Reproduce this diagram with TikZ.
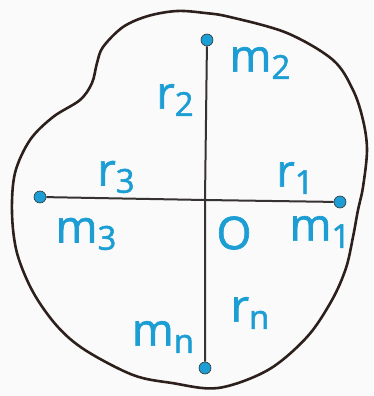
\documentclass[tikz,border=0pt]{standalone}
\usepackage{fontspec}
\setmainfont{Open Sans}[FakeBold=1.5]
\definecolor{ink}{RGB}{28,158,212}
\definecolor{outl}{RGB}{45,32,28}
\definecolor{rod}{RGB}{55,50,50}
\tikzset{
  lbl/.style={text=ink, font=\fontsize{45}{48}\selectfont, inner sep=0pt},
  dot/.style={circle, fill=ink, draw=black!80, line width=0.6pt, minimum size=12pt, inner sep=0pt},
  rodline/.style={draw=rod, line width=2pt},
  outline/.style={draw=outl, line width=2.6pt, line join=round}
}
\newcommand{\sbx}[1]{\raisebox{-0.3ex}{\fontsize{33}{35}\selectfont #1}}
\begin{document}
\begin{tikzpicture}[x=1pt,y=-1pt]
\useasboundingbox (0,0) rectangle (373,396);
\fill[white!96!gray] (0,0) rectangle (373,396);
\draw[outline] plot[smooth cycle, tension=0.55] coordinates {
 (103,47) (123,27) (148,16) (177,11) (205,13) (230,17) (287,33) (333,60)
 (353,90) (363,120) (367,150) (363,187) (358,210) (353,237) (346,268)
 (332,300) (307,337) (268,370) (218,388) (172,383) (133,375) (85,350)
 (57,326) (33,292) (17,253) (12,213) (15,173) (30,140) (53,117) (80,100)
 (92,83) (97,63)};
\node[dot] (m2) at (207,40) {};
\node[dot] (mn) at (205,368) {};
\node[dot] (m3) at (40,197) {};
\node[dot] (m1) at (340,202) {};
\coordinate (o) at (205,200);
\draw[rodline] (m2) -- (o) -- (mn);
\draw[rodline] (m3) -- (o) -- (m1);
\node[lbl] (lm2) at (260,63) {m\sbx{2}};
\node[lbl] (lr2) at (175,100) {r\sbx{2}};
\node[lbl] (lr3) at (116,177) {r\sbx{3}};
\node[lbl] (lr1) at (295,178) {r\sbx{1}};
\node[lbl] (lm3) at (86,234) {m\sbx{3}};
\node[lbl] (lo) at (234,233) {O};
\node[lbl] (lm1) at (320,232) {m\sbx{1}};
\node[lbl] (lrn) at (250,313) {r\sbx{n}};
\node[lbl] (lmn) at (163,337) {m\sbx{n}};
\end{tikzpicture}
\end{document}
